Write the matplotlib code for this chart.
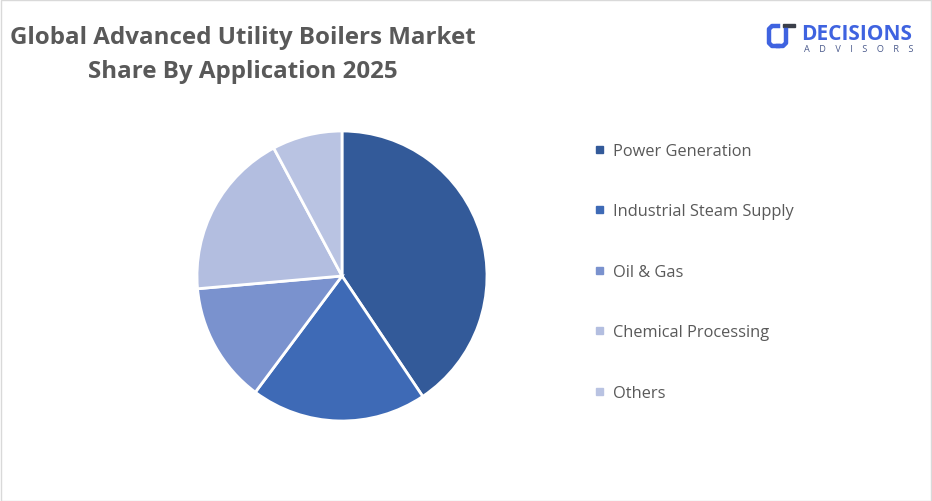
import numpy as np
from matplotlib import pyplot as plt
from matplotlib.patches import Rectangle
from matplotlib.lines import Line2D

# data
categories = ["Power Generation", "Industrial Steam Supply", "Oil & Gas",
              "Chemical Processing", "Others"]
shares = [40.6, 19.6, 13.4, 18.6, 7.8]
colors = ["#335A99", "#3E6AB6", "#7A92CE", "#B3BEE0", "#B9C3E2"]
title = "Global Advanced Utility Boilers Market\nShare By Application 2025"

W, H = 932, 502
fig = plt.figure(figsize=(W / 100, H / 100), dpi=100)
fig.patch.set_facecolor("white")

def px(x, y):
    return x / W, 1 - y / H

# light frame around the chart
fig.patches.append(Rectangle((0.5 / W, 0.5 / H), 1 - 1.5 / W, 1 - 1.5 / H,
                             transform=fig.transFigure, fill=False,
                             edgecolor="#D9D9D9", linewidth=1))

# pie, centre at (342, 277) px, radius 145 px
cx, cy, r = 342, 277, 145
ax = fig.add_axes([(cx - r) / W, (H - cy - r) / H, 2 * r / W, 2 * r / H])
ax.pie(shares, colors=colors, startangle=90, counterclock=False, radius=1,
       wedgeprops=dict(edgecolor="white", linewidth=2))
ax.set_xlim(-1, 1)
ax.set_ylim(-1, 1)
ax.axis("off")

# title
fig.text(243 / W, 1 - 55 / H, title, ha="center", va="center",
         fontsize=17.4, fontweight="bold", color="#595959",
         family="Open Sans", linespacing=1.5)

# legend
y0, dy = 150, 60.5
for i, (lab, col) in enumerate(zip(categories, colors)):
    y = y0 + i * dy
    fig.patches.append(Rectangle(((599 - 3.5) / W, 1 - (y + 3.5) / H), 7 / W, 7 / H,
                                 transform=fig.transFigure, color=col))
    fig.text(613 / W, 1 - (y + 2) / H, lab, ha="left", va="center",
             fontsize=11.8, color="#595959", family="Open Sans")

# logo
logo = "#3F63E0"
c_x = [778, 772, 769, 769, 772, 778]
c_y = [27, 27, 30, 44, 47, 47]
xs, ys = zip(*[px(a, b) for a, b in zip(c_x, c_y)])
fig.lines.append(Line2D(xs, ys, transform=fig.transFigure, color=logo,
                        linewidth=3.2, solid_joinstyle="round"))
j_x = [786, 786, 783, 778]
j_y = [31, 44, 47, 47]
xs, ys = zip(*[px(a, b) for a, b in zip(j_x, j_y)])
fig.lines.append(Line2D(xs, ys, transform=fig.transFigure, color=logo,
                        linewidth=3.2, solid_joinstyle="round"))
fig.patches.append(Rectangle(px(783, 28), 12 / W, 3 / H,
                             transform=fig.transFigure, color="#3A3F4A"))
fig.text(801 / W, 1 - 40 / H, "DECISIONS", ha="left", va="baseline",
         fontsize=15, fontweight="bold", color=logo, family="Open Sans")
fig.text(804 / W, 1 - 52 / H, "A    D    V    I    S    O    R    S", ha="left",
         va="baseline", fontsize=6.6, color="#4A5A8C", family="Open Sans")

fig.savefig("out.png", dpi=100, facecolor="white")
